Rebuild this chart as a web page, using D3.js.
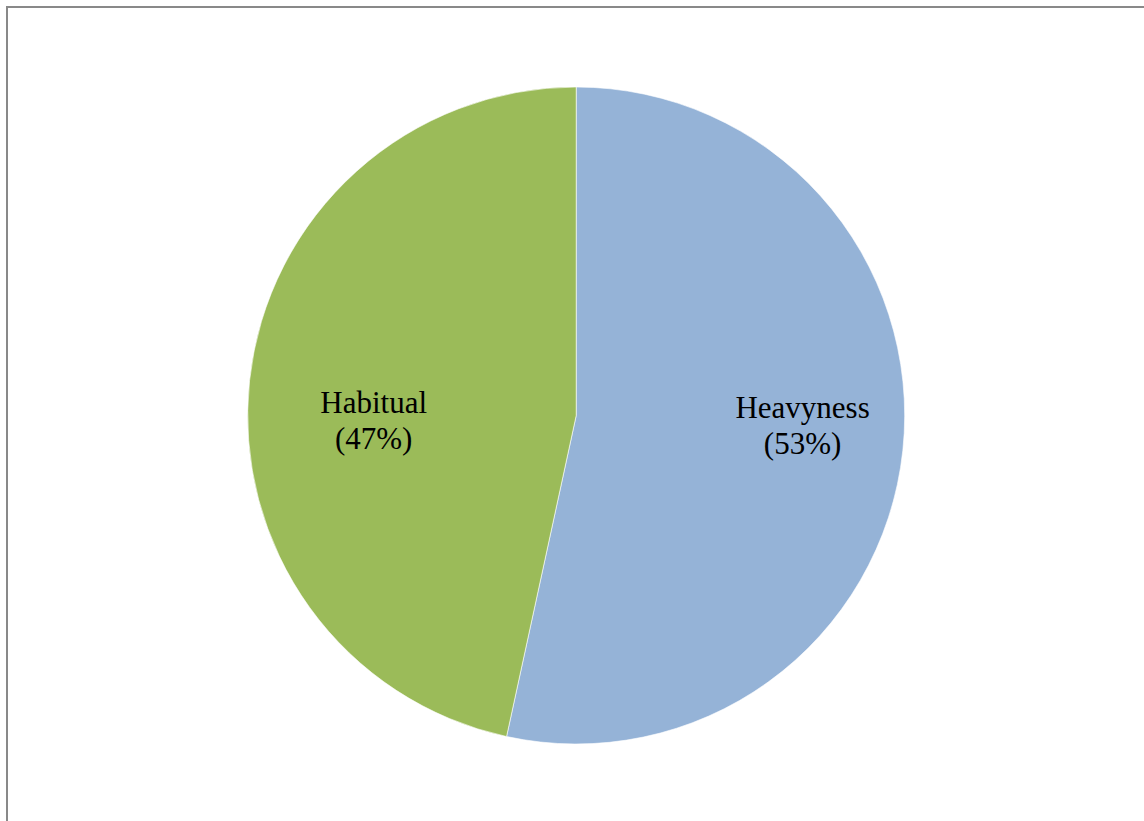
<!DOCTYPE html>
<html>
<head>
<meta charset="utf-8">
<script src="https://cdn.jsdelivr.net/npm/d3@7"></script>
<style>
html,body{margin:0;padding:0;background:#fff;}
svg{display:block;}
</style>
</head>
<body>
<svg id="chart" width="1144" height="821"></svg>
<script>
const categories = ["Heavyness", "Habitual"];
const values = [53.4, 46.6];
const colors = ["#95B3D7", "#9BBB59"];
const labelRadiusFrac = [0.693, 0.62];

const W = 1144, H = 821;
const cx = 576.2, cy = 415.5, R = 328.5;
const svg = d3.select("#chart");

// outer frame (clipped at right/bottom like the reference)
svg.append("path")
  .attr("d", `M7,${H + 2} V7 H${W + 2}`)
  .attr("fill", "none")
  .attr("stroke", "#898989")
  .attr("stroke-width", 2);

const data = categories.map((c, i) => ({ cat: c, value: values[i], color: colors[i], lr: labelRadiusFrac[i] }));
const total = d3.sum(values);
const pie = d3.pie().value(d => d.value).sort(null);
const arcs = pie(data);
const arc = d3.arc().innerRadius(0).outerRadius(R);

const g = svg.append("g").attr("transform", `translate(${cx},${cy})`);
g.selectAll("path.slice")
  .data(arcs)
  .enter().append("path")
  .attr("class", "slice")
  .attr("d", arc)
  .attr("fill", d => d.data.color)
  .attr("stroke", "#ffffff")
  .attr("stroke-width", 0.6);

const labels = g.selectAll("text.lbl")
  .data(arcs)
  .enter().append("text")
  .attr("class", "lbl")
  .attr("text-anchor", "middle")
  .attr("font-family", "'Liberation Serif', 'Times New Roman', serif")
  .attr("font-size", 31)
  .attr("fill", "#000")
  .attr("transform", d => {
    const a = (d.startAngle + d.endAngle) / 2;
    const r = R * d.data.lr;
    const x = r * Math.sin(a);
    return `translate(${x},${d.index === 0 ? 10 : 5})`;
  });
labels.append("tspan").attr("x", 0).attr("dy", -7.5).text(d => d.data.cat);
labels.append("tspan").attr("x", 0).attr("dy", 35.5)
  .text(d => `(${Math.round(d.data.value / total * 100)}%)`);
</script>
</body>
</html>
